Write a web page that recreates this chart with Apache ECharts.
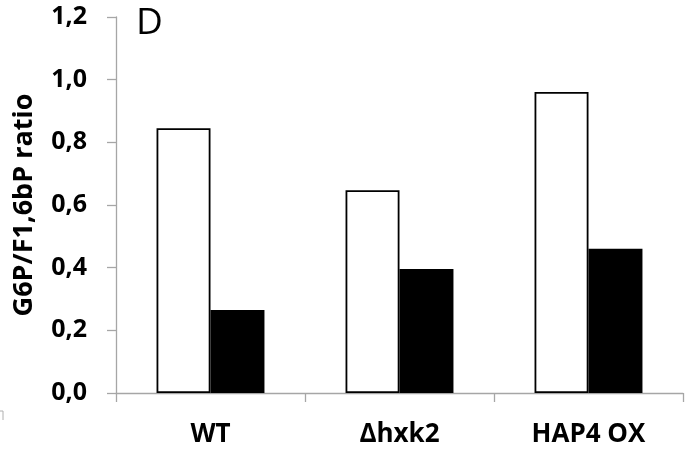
<!DOCTYPE html>
<html>
<head>
<meta charset="utf-8">
<script src="https://cdn.jsdelivr.net/npm/echarts@6/dist/echarts.min.js"></script>
<style>html,body{margin:0;padding:0;background:#fff;}#c{width:692px;height:452px;}</style>
</head>
<body>
<div id="c"></div>
<script>
const categories = ['WT', 'Δhxk2', 'HAP4 OX'];
const whiteValues = [0.845, 0.647, 0.961];
const blackValues = [0.265, 0.396, 0.46];
const yTicks = [0, 0.2, 0.4, 0.6, 0.8, 1.0, 1.2];
const yTitle = 'G6P/F1,6bP ratio';
const panelLabel = 'D';

const chart = echarts.init(document.getElementById('c'), null, {renderer: 'canvas'});
const axisGray = '#a6a6a6';
chart.setOption({
  backgroundColor: '#fff',
  animation: false,
  grid: {left: 116, right: 9, top: 17, bottom: 59, containLabel: false},
  title: {text: panelLabel, left: 131, top: 0,
    textStyle: {fontFamily: 'Open Sans', fontWeight: 'normal', fontSize: 37, color: '#000'}},
  xAxis: {
    type: 'category', data: categories,
    axisLine: {lineStyle: {color: axisGray, width: 1.3}},
    axisTick: {show: true, length: 9, lineStyle: {color: axisGray, width: 1.3}},
    axisLabel: {margin: 29, fontFamily: 'Open Sans', fontWeight: 'bold', fontSize: 26, color: '#000'}
  },
  yAxis: {
    type: 'value', min: yTicks[0], max: yTicks[yTicks.length - 1], interval: 0.2,
    name: yTitle, nameLocation: 'middle', nameGap: 78,
    nameTextStyle: {fontFamily: 'Open Sans', fontWeight: 'bold', fontSize: 27, color: '#000'},
    axisLine: {show: true, lineStyle: {color: axisGray, width: 1.3}},
    axisTick: {show: true, length: 9, lineStyle: {color: axisGray, width: 1.3}},
    splitLine: {show: false},
    axisLabel: {margin: 29, fontFamily: 'Open Sans', fontWeight: 'bold', fontSize: 25, color: '#000',
      formatter: v => v.toFixed(1).replace('.', ',')}
  },
  series: [
    {type: 'bar', data: whiteValues, barGap: '0%', barCategoryGap: '42.9%',
      itemStyle: {color: '#fff', borderColor: '#000', borderWidth: 1.8}},
    {type: 'bar', data: blackValues, barGap: '0%', barCategoryGap: '42.9%',
      itemStyle: {color: '#000', borderColor: '#000', borderWidth: 0}}
  ],
  graphic: [{type: 'polyline', shape: {points: [[0, 411], [3, 411], [3, 420]]},
    style: {stroke: '#b0b0b0', lineWidth: 1, fill: null}}]
});
</script>
</body>
</html>
